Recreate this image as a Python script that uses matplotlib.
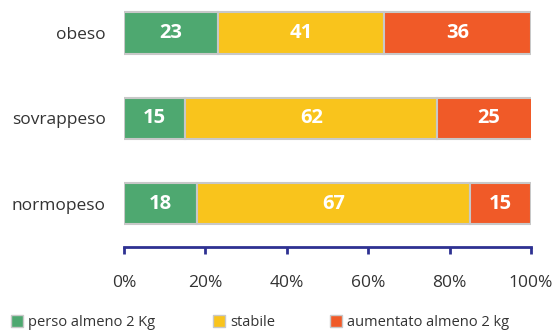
import matplotlib.pyplot as plt
from matplotlib.patches import Patch

categorie = ['normopeso', 'sovrappeso', 'obeso']
perso = [18, 15, 23]
stabile = [67, 62, 41]
aumentato = [15, 25, 36]
serie = ['perso almeno 2 Kg', 'stabile', 'aumentato almeno 2 kg']
colori = ['#4ea870', '#f9c41c', '#f05a28']
xticks = [0, 20, 40, 60, 80, 100]

plt.rcParams['font.family'] = ['Open Sans', 'DejaVu Sans']

fig = plt.figure(figsize=(5.58, 3.33), dpi=100)
ax = fig.add_axes([124 / 558, 86 / 333, 407 / 558, 247 / 333])

left = [0] * len(categorie)
for valori, col in zip([perso, stabile, aumentato], colori):
    bars = ax.barh(range(len(categorie)), valori, left=left, height=0.49,
                   color=col, edgecolor='#c8c8c8', linewidth=1.5)
    for b, v in zip(bars, valori):
        ax.text(b.get_x() + b.get_width() / 2, b.get_y() + b.get_height() / 2,
                str(v), ha='center', va='center', color='white',
                fontsize=14.5, fontweight='bold')
    left = [l + v for l, v in zip(left, valori)]

ax.set_xlim(0, 100)
ax.set_ylim(-0.51, 2.39)
ax.set_yticks(range(len(categorie)))
ax.set_yticklabels(categorie, fontsize=12.5, color='#333333')
ax.tick_params(axis='y', length=0, pad=13)
ax.set_xticks(xticks)
ax.set_xticklabels([f'{t}%' for t in xticks], fontsize=12.5, color='#333333')
ax.tick_params(axis='x', direction='out', length=5, width=2, color='#2e3192', pad=15)
for s in ['top', 'right', 'left']:
    ax.spines[s].set_visible(False)
ax.spines['bottom'].set_color('#2e3192')
ax.spines['bottom'].set_linewidth(2)

# una legenda per voce, per posizionarle come nell'originale
for nome, col, x0 in zip(serie, colori, [8, 210, 327]):
    h = Patch(facecolor=col, edgecolor='#c8c8c8', linewidth=1)
    fig.legend([h], [nome], loc='lower left', bbox_to_anchor=(x0 / 558, 0.0),
               borderaxespad=0, borderpad=0.2, frameon=False, fontsize=10.5,
               handlelength=0.8, handleheight=0.8, handletextpad=0.4,
               labelcolor='#333333')

fig.savefig('out.png', dpi=100)
